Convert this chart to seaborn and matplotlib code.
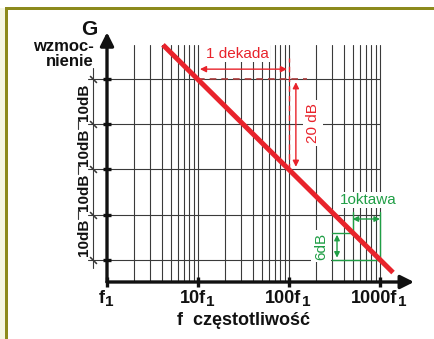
import numpy as np
import matplotlib.pyplot as plt
import seaborn as sns
from matplotlib.patches import Rectangle

# values (frequency in units of f1, gain in dB)
decades = [1, 10, 100, 1000]
decade_labels = ["f", "10f", "100f", "1000f"]
gain_grid = [5, 15, 25, 35, 45]
step_centers = [10, 20, 30, 40]
step_labels = ["10dB", "10dB", "10dB", "10dB"]

# the -20 dB/decade response
response_f = [4.12, 1390]
response_db = [52.7, 2.1]

# one decade / one octave markers
decade_f = [10, 100]
decade_db = [45, 25]
octave_f = [500, 1000]
octave_db = [11, 5]

RED = "#e8232b"
GREEN = "#1f9e45"
GRID = "#3a3a3a"
OLIVE = "#8c8a1c"
INK = "#111111"

sns.set_style("white")
plt.rcParams["font.family"] = ["Liberation Sans", "DejaVu Sans"]

W, H = 434, 339
fig = plt.figure(figsize=(W / 100, H / 100), dpi=100)
ax = fig.add_axes([0, 0, 1, 1])
ax.set_xscale("log")
# pixel layout: f1 at x=107, 91 px per decade; 0 dB at y=282, 4.5 px per dB
ax.set_xlim(10 ** (-107 / 91), 10 ** ((W - 107) / 91))
ax.set_ylim(-(H - 282) / 4.5, 282 / 4.5)
ax.axis("off")

# frame
fig.patches.append(Rectangle((0, 0), 5 / W, 1 - 8 / H, transform=fig.transFigure,
                             facecolor="#f4f6e2", edgecolor="none", zorder=0))
fig.patches.append(Rectangle((5 / W, 0), 3 / W, 1 - 7 / H, transform=fig.transFigure,
                             facecolor=OLIVE, edgecolor="none", zorder=0))
fig.patches.append(Rectangle((5 / W, 1 - 10 / H), 1, 3 / H, transform=fig.transFigure,
                             facecolor=OLIVE, edgecolor="none", zorder=0))

# grid
grid_f = [m * 10 ** k for k in range(3) for m in range(2, 11)]
for f in grid_f:
    ax.plot([f, f], [0, 52.7], color=GRID, lw=0.8, zorder=1)
for g in gain_grid:
    ax.plot([0.62, 1000], [g, g], color=GRID, lw=0.8, zorder=1)

# axes with arrows
ax.annotate("", xy=(2365, 0), xytext=(1, 0),
            arrowprops=dict(arrowstyle="-|>", color=INK, lw=2.4,
                            mutation_scale=20, shrinkA=0, shrinkB=0), zorder=3)
ax.annotate("", xy=(1, 55.5), xytext=(1, 0),
            arrowprops=dict(arrowstyle="-|>", color=INK, lw=2.4,
                            mutation_scale=20, shrinkA=0, shrinkB=0), zorder=3)
ax.plot([1] * len(gain_grid), gain_grid, ls="none", marker="_", ms=6, mew=2.4,
        color=INK, zorder=4)
ax.plot(decades, [0] * len(decades), ls="none", marker="|", ms=7, mew=2.4,
        color=INK, zorder=4)

# decade labels with a large subscript 1
for f, lab in zip(decades, decade_labels):
    t = ax.annotate(lab, xy=(f, -3.7), xytext=(-4, 0), textcoords="offset points",
                    ha="center", va="center", fontsize=13, fontweight="bold", color=INK)
    ax.annotate("1", xy=(1, 0), xycoords=t, xytext=(0.5, -1.5), textcoords="offset points",
                ha="left", va="bottom", fontsize=11, fontweight="bold", color=INK)
ax.text(5.9, -8.6, "f  częstotliwość", ha="left", va="center", fontsize=13,
        fontweight="bold", color=INK)

ax.text(0.634, 56.2, "G", ha="center", va="center", fontsize=15,
        fontweight="bold", color=INK)
ax.text(0.72, 52.4, "wzmoc-", ha="right", va="center", fontsize=12,
        fontweight="bold", color=INK)
ax.text(0.72, 49.0, "nienie", ha="right", va="center", fontsize=12,
        fontweight="bold", color=INK)

# left dimension line
ax.plot([0.702, 0.702], [3.1, 47.6], color=GRID, lw=0.8, zorder=1)
ax.plot([0.702] * len(gain_grid), gain_grid, ls="none", marker=(2, 2, 45), ms=7,
        mew=0.8, color=GRID)
for g in gain_grid[1:-1]:
    ax.plot([0.48, 0.48], [g - 1, g + 1], color=GRID, lw=0.8)
for c, lab in zip(step_centers, step_labels):
    ax.text(0.559, c, lab, rotation=90, ha="center", va="center", fontsize=11,
            fontweight="bold", color=INK)

# response line
sns.lineplot(x=response_f, y=response_db, color=RED, lw=3.6, ax=ax, zorder=5,
             solid_capstyle="butt")

# one decade
ax.plot([decade_f[0], 157], [decade_db[0]] * 2, color="#a83a3a", lw=1.2,
        ls=(0, (4, 3)), zorder=2)
ax.plot([decade_f[1]] * 2, [decade_db[1], 49.8], color=RED, lw=1.0,
        ls=(0, (4, 3)), zorder=2)
ax.annotate("", xy=(95, 47.3), xytext=(10.5, 47.3),
            arrowprops=dict(arrowstyle="<|-|>", color=RED, lw=1.0,
                            mutation_scale=9, shrinkA=0, shrinkB=0), zorder=4)
ax.annotate("", xy=(119, 44.4), xytext=(119, 25.6),
            arrowprops=dict(arrowstyle="<|-|>", color=RED, lw=1.0,
                            mutation_scale=9, shrinkA=0, shrinkB=0), zorder=4)
ax.text(26.8, 50.7, "1 dekada", ha="center", va="center", fontsize=11, color=RED,
        bbox=dict(facecolor="white", edgecolor="none", pad=1), zorder=3)
ax.text(183.5, 35.3, "20 dB", rotation=90, ha="center", va="center", fontsize=11,
        color=RED, bbox=dict(facecolor="white", edgecolor="none", pad=2), zorder=3)

# one octave
ax.plot([octave_f[0]] * 2, [octave_db[0], 15.6], color=GREEN, lw=1.0, zorder=4)
ax.plot([octave_f[1]] * 2, [octave_db[1], 15.6], color=GREEN, lw=1.0, zorder=4)
ax.plot([297, octave_f[0]], [octave_db[0]] * 2, color=GREEN, lw=1.0, zorder=4)
ax.plot([297, octave_f[1]], [octave_db[1]] * 2, color=GREEN, lw=1.0, zorder=4)
ax.annotate("", xy=(octave_f[1], 14), xytext=(octave_f[0], 14),
            arrowprops=dict(arrowstyle="<|-|>", color=GREEN, lw=1.0,
                            mutation_scale=8, shrinkA=0, shrinkB=0), zorder=4)
ax.annotate("", xy=(337, 10.5), xytext=(337, 5.4),
            arrowprops=dict(arrowstyle="<|-|>", color=GREEN, lw=1.0,
                            mutation_scale=8, shrinkA=0, shrinkB=0), zorder=4)
ax.text(738, 18.2, "1oktawa", ha="center", va="center", fontsize=11, color=GREEN,
        bbox=dict(facecolor="white", edgecolor="none", pad=1), zorder=3)
ax.text(225, 8, "6dB", rotation=90, ha="center", va="center", fontsize=11,
        color=GREEN, bbox=dict(facecolor="white", edgecolor="none", pad=2), zorder=3)

fig.savefig("out.png", dpi=100)
